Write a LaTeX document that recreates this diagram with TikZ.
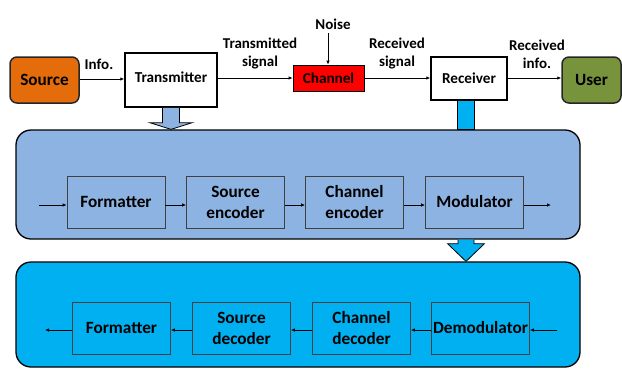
\documentclass[tikz,border=0pt]{standalone}
\usepackage{fontspec}
\setmainfont{Carlito}
\usetikzlibrary{arrows.meta,calc}
\definecolor{orangeS}{HTML}{E46C0A}
\definecolor{greenU}{HTML}{77933C}
\definecolor{redC}{HTML}{FF0000}
\definecolor{lblue}{HTML}{8DB3E2}
\definecolor{cyanB}{HTML}{00B0F0}
\begin{document}
\begin{tikzpicture}[x=1pt,y=-1pt,
  arr/.style={line width=0.8pt, -{Latex[length=4pt,width=3.5pt]}},
  topbox/.style={draw, line width=1.5pt, inner sep=0pt, align=center, font=\fontsize{15.2}{18}\selectfont\bfseries},
  bigtext/.style={font=\fontsize{17.2}{20}\selectfont\bfseries},
  lbl/.style={align=center, inner sep=0pt, font=\fontsize{15}{18}\selectfont\bfseries},
  inbox/.style={draw=black!75, line width=0.8pt, minimum width=98pt, minimum height=52pt, inner sep=0pt, align=center, font=\fontsize{17.2}{21}\selectfont\bfseries},
  cont/.style={draw, line width=1.3pt, rounded corners=15pt, inner sep=0pt},
  blockarrow/.style={draw, line width=0.8pt}
]
\useasboundingbox (0,0) rectangle (622,368);

% containers
\node[cont, fill=lblue, minimum width=564pt, minimum height=109pt] (box1) at (298,184.5) {};
\node[cont, fill=cyanB, minimum width=564pt, minimum height=105pt] (box2) at (298,314.5) {};

% top row
\node[topbox, bigtext, fill=orangeS, rounded corners=7pt, draw=black!85, minimum width=69pt, minimum height=46pt] (src) at (44.5,80) {Source};
\node[topbox, fill=white, minimum width=92pt, minimum height=54pt] (tx) at (171,80) {};
\node[lbl, font=\fontsize{15.2}{18}\selectfont\bfseries] (txt) at (171,77) {Transmitter};
\node[topbox, fill=redC, line width=0.8pt, minimum width=71pt, minimum height=26pt] (ch) at (328.5,78) {Channel};
\node[topbox, fill=white, minimum width=76pt, minimum height=43pt] (rx) at (469,78.5) {Receiver};
\node[topbox, bigtext, fill=greenU, rounded corners=7pt, draw=black!85, minimum width=59pt, minimum height=46pt] (usr) at (591.5,80) {User};

\node[lbl] (info) at (99,64) {Info.};
\node[lbl] (tsig) at (260,54) {Transmitted\\signal};
\node[lbl] (noise) at (333,24) {Noise};
\coordinate (nz) at (328,33);
\node[lbl] (rsig) at (397,54) {Received\\signal};
\node[lbl] (rinfo) at (537,54) {Received\\info.};

\draw[arr] (src.east |- 0,79) -- (tx.west |- 0,79);
\draw[arr] (tx.east |- ch.west) -- (ch.west);
\draw[arr] (ch.east) -- (ch.east -| rx.west);
\draw[arr] (rx.east |- ch.east) -- (usr.west |- ch.east);
\draw[arr] (nz) -- (nz |- ch.north);

% block arrows
\draw[blockarrow, fill=lblue] ($(tx.south)+(-8.5,0)$) -- ($(tx.south)+(-8.5,15)$) -- ($(tx.south)+(-21,15)$) -- (tx.south |- box1.north) -- ($(tx.south)+(21,15)$) -- ($(tx.south)+(8.5,15)$) -- ($(tx.south)+(8.5,0)$);
\draw[blockarrow, fill=cyanB] ($(rx.south)+(-12,0)$) rectangle ($(rx.south |- box1.north)+(5,0)$);
\coordinate (dA) at ($(rx.south |- box1.south)+(-3,0)$);
\coordinate (dB) at (dA |- box2.north);
\draw[blockarrow, fill=cyanB] ($(dA)+(-8,0)$) -- ($(dA)+(-8,4)$) -- ($(dA)+(-18.5,4)$) -- (dB) -- ($(dA)+(18.5,4)$) -- ($(dA)+(8,4)$) -- ($(dA)+(8,0)$);

% transmitter chain
\node[inbox] (f1) at (116,202) {Formatter};
\node[inbox] (se) at (235.5,202) {Source\\encoder};
\node[inbox] (ce) at (354.5,202) {Channel\\encoder};
\node[inbox] (mo) at (474.5,202) {Modulator};
\coordinate (in1) at (39,205);
\coordinate (out1) at (551,205);
\draw[arr] (in1) -- (in1 -| f1.west);
\draw[arr] (f1.east |- in1) -- (se.west |- in1);
\draw[arr] (se.east |- in1) -- (ce.west |- in1);
\draw[arr] (ce.east |- in1) -- (mo.west |- in1);
\draw[arr] (mo.east |- out1) -- (out1);

% receiver chain
\node[inbox] (f2) at (121.5,328) {Formatter};
\node[inbox] (sd) at (241.5,328) {Source\\decoder};
\node[inbox] (cd) at (361.5,328) {Channel\\decoder};
\node[inbox] (dm) at (480.5,328) {Demodulator};
\coordinate (in2) at (557,330);
\coordinate (out2) at (45,330);
\draw[arr] (in2) -- (in2 -| dm.east);
\draw[arr] (dm.west |- in2) -- (cd.east |- in2);
\draw[arr] (cd.west |- in2) -- (sd.east |- in2);
\draw[arr] (sd.west |- in2) -- (f2.east |- in2);
\draw[arr] (f2.west |- out2) -- (out2);
\end{tikzpicture}
\end{document}
